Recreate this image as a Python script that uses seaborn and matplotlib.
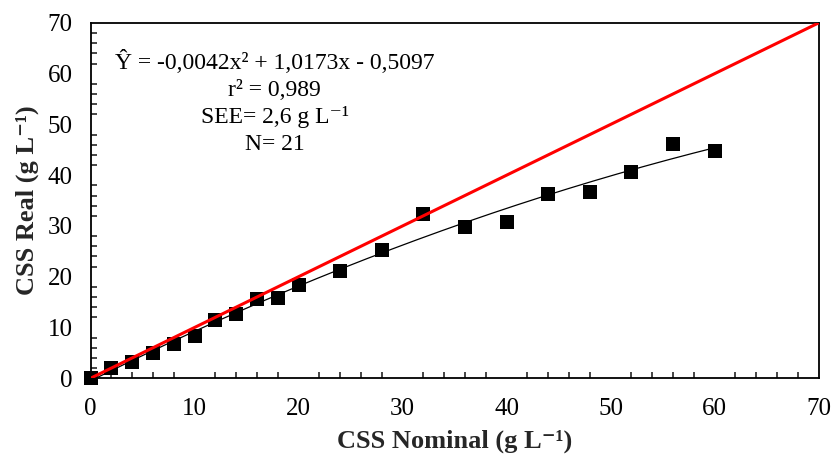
import numpy as np
import pandas as pd
import matplotlib
matplotlib.use("Agg")
import matplotlib.pyplot as plt
import seaborn as sns
from matplotlib.ticker import MultipleLocator

# Data
css_nominal = [0, 2, 4, 6, 8, 10, 12, 14, 16, 18, 20, 24, 28, 32, 36, 40, 44, 48, 52, 56, 60]
css_real = [0.0, 2.0, 3.2, 5.0, 6.7, 8.4, 11.4, 12.7, 15.6, 15.8, 18.3, 21.1, 25.3, 32.4,
            29.7, 30.8, 36.3, 36.7, 40.6, 46.2, 44.7]
fit_coefs = [-0.0042, 1.0173, -0.5097]   # quadratic fit from the annotation
identity_x = [0, 70]
eq_lines = ["Ŷ = -0,0042x² + 1,0173x - 0,5097", "r² = 0,989",
            "SEE= 2,6 g L⁻¹", "N= 21"]

sns.set_theme(style="white")
plt.rcParams['font.family'] = ['Liberation Serif', 'DejaVu Serif']

fig = plt.figure(figsize=(8.31, 4.59), dpi=100)
ax = fig.add_axes([0.109, 0.176, 0.876, 0.774])

df = pd.DataFrame({"x": css_nominal, "y": css_real})
fit_x = np.linspace(min(css_nominal), max(css_nominal), 200)
fit_df = pd.DataFrame({"x": fit_x, "y": np.polyval(fit_coefs, fit_x)})
id_df = pd.DataFrame({"x": identity_x, "y": identity_x})

sns.lineplot(data=fit_df, x="x", y="y", ax=ax, color="black", linewidth=0.9, zorder=2)
sns.lineplot(data=id_df, x="x", y="y", ax=ax, color="#ff0000", linewidth=2.2, zorder=4)
sns.scatterplot(data=df, x="x", y="y", ax=ax, marker="s", s=115, color="black",
                edgecolor="black", linewidth=0, zorder=3, clip_on=False)

ax.set_xlim(0, 70)
ax.set_ylim(0, 70)
ax.xaxis.set_major_locator(MultipleLocator(10))
ax.yaxis.set_major_locator(MultipleLocator(10))
ax.xaxis.set_minor_locator(MultipleLocator(2))
ax.yaxis.set_minor_locator(MultipleLocator(2))
ax.tick_params(which='major', direction='inout', length=10, width=1.2, labelsize=18,
               colors='black', top=False, right=False)
ax.tick_params(axis='x', which='major', pad=9)
ax.tick_params(axis='y', which='major', pad=8)
ax.tick_params(which='minor', direction='in', length=4.5, width=1.2, top=False, right=False,
               bottom=True, left=True)
for sp in ax.spines.values():
    sp.set_color('black')
    sp.set_linewidth(1.3)
    sp.set_visible(True)

ax.set_xlabel("CSS Nominal (g L⁻¹)", fontsize=19, fontweight='bold', labelpad=7)
ax.set_ylabel("CSS Real (g L⁻¹)", fontsize=19, fontweight='bold', labelpad=6)

ys = [62.4, 56.6, 51.4, 46.1]
for t, yy in zip(eq_lines, ys):
    ax.text(17.7, yy, t, ha='center', va='center', fontsize=17, color='black')

fig.savefig("out.png", dpi=100)
